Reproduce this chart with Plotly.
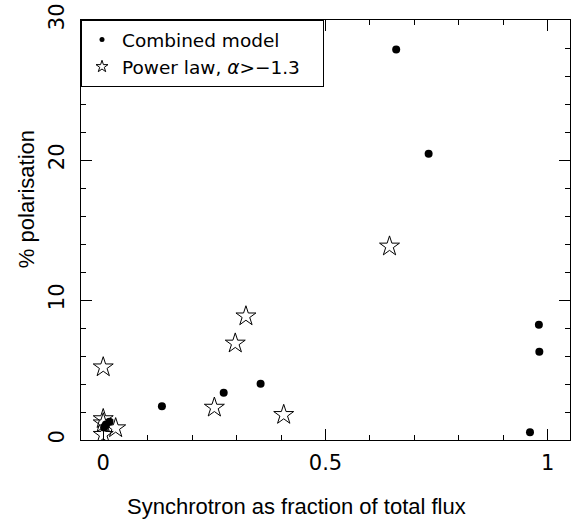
import plotly.graph_objects as go

# Combined model (filled dots)
comb_x = [0.659, 0.732, 0.980, 0.981, 0.960, 0.354, 0.271, 0.132, 0.014, 0.002, 0.006]
comb_y = [27.9, 20.45, 8.23, 6.3, 0.55, 4.02, 3.38, 2.41, 1.3, 0.9, 1.1]

# Power law, alpha > -1.3 (open stars)
pl_x = [0.644, 0.321, 0.297, 0.250, 0.406, 0.000, 0.000, 0.000, 0.028, 0.000]
pl_y = [13.83, 8.84, 6.9, 2.32, 1.80, 5.2, 1.5, 1.2, 0.85, 0.38]

x_ticks = [0, 0.5, 1]
x_tick_labels = ["0", "0.5", "1"]
y_ticks = [0, 10, 20, 30]
y_tick_labels = ["0", "10", "20", "30"]

TICK_FONT = "DejaVu Sans"
TITLE_FONT = "Liberation Sans"

fig = go.Figure()
fig.add_trace(go.Scatter(
    x=comb_x, y=comb_y, mode="markers", name="Combined model", showlegend=False,
    marker=dict(symbol="circle", size=8, color="black"),
))
fig.add_trace(go.Scatter(
    x=pl_x, y=pl_y, mode="markers", name="Power law", showlegend=False,
    marker=dict(symbol="star-open", size=15, color="black",
                line=dict(width=1, color="black")),
))
# legend keys (small symbols, as in the original)
fig.add_trace(go.Scatter(
    x=[None], y=[None], mode="markers", name="Combined model",
    marker=dict(symbol="circle", size=5, color="black"),
))
fig.add_trace(go.Scatter(
    x=[None], y=[None], mode="markers",
    name="Power law, <i>α</i>>−1.3&nbsp;&nbsp;&nbsp;",
    marker=dict(symbol="star-open", size=9, color="black",
                line=dict(width=1, color="black")),
))

axis_common = dict(
    showgrid=False, zeroline=False, showline=True, linecolor="black",
    linewidth=1, mirror="ticks", ticks="inside", ticklen=11, tickwidth=1,
    tickcolor="black", tickfont=dict(family=TICK_FONT, size=21, color="black"),
)

fig.update_xaxes(
    range=[-0.05, 1.05], tickvals=x_ticks, ticktext=x_tick_labels,
    minor=dict(dtick=0.1, tick0=0, ticks="inside", ticklen=5, tickcolor="black"),
    ticklabelstandoff=4,
    **axis_common,
)
fig.update_yaxes(
    range=[0, 30], tickvals=y_ticks, ticktext=y_tick_labels, tickangle=-90,
    minor=dict(dtick=2, tick0=0, ticks="inside", ticklen=5, tickcolor="black"),
    ticklabelstandoff=8,
    **axis_common,
)

fig.add_annotation(
    text="Synchrotron as fraction of total flux", xref="paper", yref="paper",
    x=0.44, y=-0.158, xanchor="center", yanchor="middle", showarrow=False,
    font=dict(family=TITLE_FONT, size=22, color="black"),
)
fig.add_annotation(
    text="% polarisation", xref="paper", yref="paper",
    x=-0.110, y=0.574, xanchor="center", yanchor="middle", showarrow=False,
    textangle=-90, font=dict(family=TITLE_FONT, size=22, color="black"),
)

fig.update_layout(
    width=574, height=520,
    margin=dict(l=81, r=3, t=17, b=80),
    paper_bgcolor="white", plot_bgcolor="white",
    showlegend=True,
    legend=dict(
        x=0, y=1, xanchor="left", yanchor="top",
        bordercolor="black", borderwidth=1, bgcolor="white",
        font=dict(family=TICK_FONT, size=18.5, color="black"),
        itemwidth=30, tracegroupgap=0,
    ),
)

fig.write_html("out.html")
